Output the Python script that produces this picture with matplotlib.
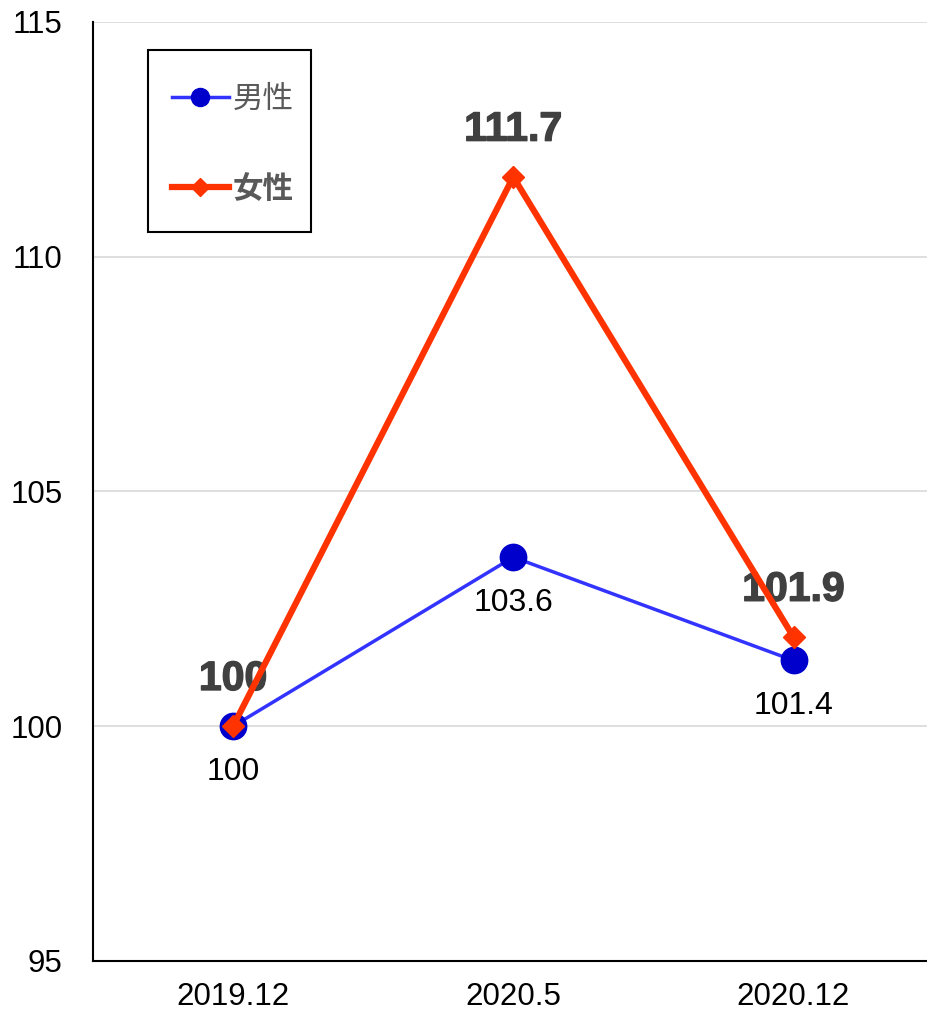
import matplotlib.pyplot as plt
import matplotlib.patheffects as pe
from matplotlib.lines import Line2D
from matplotlib.patches import Rectangle

plt.rcParams['font.family'] = ['Liberation Sans', 'Noto Sans CJK JP', 'DejaVu Sans']

periods = ['2019.12', '2020.5', '2020.12']
male = [100, 103.6, 101.4]
female = [100, 111.7, 101.9]

fig = plt.figure(figsize=(9.28, 10.11), dpi=100)
ax = fig.add_axes([0.1002, 0.0495, 0.8998, 0.9288])

x = range(len(periods))
ax.plot(x, male, color='#3333FF', lw=2.5, marker='o', ms=19,
        mfc='#0000CC', mec='#0000CC', zorder=3)
ax.plot(x, female, color='#FF3300', lw=4.5, marker='D', ms=11,
        mfc='#FF3300', mec='#FF3300', zorder=4)

# 値ラベル（男性は下、女性は上）
for i, v in enumerate(male):
    ax.annotate(f'{v:g}', (i, v), xytext=(0, -33), textcoords='offset points',
                ha='center', va='center', fontsize=23, color='black')
for i, v in enumerate(female):
    ax.annotate(f'{v:g}', (i, v), xytext=(0, 34), textcoords='offset points',
                ha='center', va='center', fontsize=29.5, fontweight='bold',
                color='#404040',
                path_effects=[pe.withStroke(linewidth=1.0, foreground='#404040')])

ax.set_xlim(-0.5, 2.48)
ax.set_ylim(95, 115)
ax.set_yticks([95, 100, 105, 110, 115])
ax.set_xticks(list(x))
ax.set_xticklabels(periods)
ax.tick_params(axis='both', length=0, labelsize=22.5)
ax.tick_params(axis='x', pad=15)
ax.tick_params(axis='y', pad=22)
ax.grid(axis='y', color='#D9D9D9', lw=1.2)
ax.set_axisbelow(True)
for s in ['top', 'right']:
    ax.spines[s].set_visible(False)
for s in ['left', 'bottom']:
    ax.spines[s].set_linewidth(1.5)

# 凡例の枠は別に描く
ax.add_patch(Rectangle((0.0659, 0.7764), 0.1952, 0.1938, transform=ax.transAxes,
                       facecolor='white', edgecolor='black', lw=1.5, zorder=5))

# 凡例用のマーカーは少し小さめ
handles = [
    Line2D([], [], color='#3333FF', lw=2.5, marker='o', ms=13,
           mfc='#0000CC', mec='#0000CC'),
    Line2D([], [], color='#FF3300', lw=4.5, marker='D', ms=9,
           mfc='#FF3300', mec='#FF3300'),
]
leg = ax.legend(handles, ['男性', '女性'], loc='upper left',
                bbox_to_anchor=(0.0946, 0.9329), borderaxespad=0, borderpad=0,
                fontsize=22, frameon=False,
                handlelength=1.85, labelspacing=1.97, handletextpad=0.15)
leg.set_zorder(6)
for t in leg.get_texts():
    t.set_color('#595959')
leg.get_texts()[1].set_fontweight('bold')

plt.savefig('out.png', dpi=100)
